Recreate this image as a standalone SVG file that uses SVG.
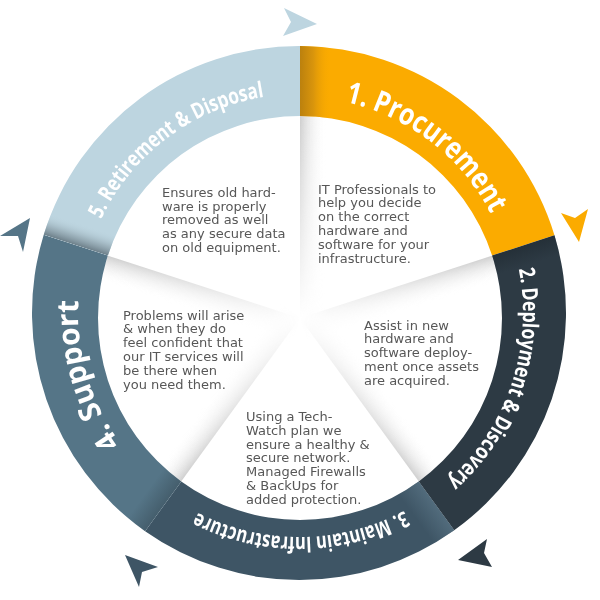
<svg xmlns="http://www.w3.org/2000/svg" xmlns:xlink="http://www.w3.org/1999/xlink" width="600" height="600" viewBox="0 0 600 600">
<defs>
<style>
.lbl{font-family:"Open Sans",Lato,"DejaVu Sans",sans-serif;font-weight:700;fill:#ffffff}
.big{font-size:30px}
.sm{font-size:22px}
.body{font-family:"DejaVu Sans","Open Sans",sans-serif;font-size:13px;fill:#575757}
</style>
<path id="seg1" d="M300,46 A267,267 0 0 1 554.46,235.32 L492.11,255.58 A202,202 0 0 0 300,116 Z"/>
<path id="seg2" d="M554.46,235.32 A267,267 0 0 1 454.21,530.25 L418.73,481.42 A202,202 0 0 0 492.11,255.58 Z"/>
<path id="seg3" d="M454.21,530.25 A267,267 0 0 1 145.11,531.18 L181.27,481.42 A202,202 0 0 0 418.73,481.42 Z"/>
<path id="seg4" d="M145.11,531.18 A267,267 0 0 1 43.73,234.73 L107.89,255.58 A202,202 0 0 0 181.27,481.42 Z"/>
<path id="seg5" d="M43.73,234.73 A267,267 0 0 1 300,46 L300,116 A202,202 0 0 0 107.89,255.58 Z"/>
<clipPath id="c1"><use xlink:href="#seg1"/></clipPath>
<clipPath id="c2"><use xlink:href="#seg2"/></clipPath>
<clipPath id="c3"><use xlink:href="#seg3"/></clipPath>
<clipPath id="c4"><use xlink:href="#seg4"/></clipPath>
<clipPath id="c5"><use xlink:href="#seg5"/></clipPath>
<clipPath id="disc"><circle cx="300" cy="318" r="202"/></clipPath>
<linearGradient id="gOr" x1="0" y1="0" x2="1" y2="0">
<stop offset="0" stop-color="#B97F0E"/>
<stop offset="0.45" stop-color="#D9950C"/>
<stop offset="1" stop-color="#FBAB00" stop-opacity="0"/>
</linearGradient>
<linearGradient id="gBl" x1="0" y1="0" x2="0" y2="1">
<stop offset="0" stop-color="#6C7E88"/>
<stop offset="0.4" stop-color="#8FA3AD" stop-opacity="0.7"/>
<stop offset="1" stop-color="#BDD5E0" stop-opacity="0"/>
</linearGradient>
<linearGradient id="gDk" x1="0" y1="0" x2="0" y2="1">
<stop offset="0" stop-color="#1F2930" stop-opacity="0.6"/>
<stop offset="1" stop-color="#1F2930" stop-opacity="0"/>
</linearGradient>
<linearGradient id="gLt" x1="0" y1="0" x2="0" y2="1">
<stop offset="0" stop-color="#5A7586" stop-opacity="0.7"/>
<stop offset="1" stop-color="#5A7586" stop-opacity="0"/>
</linearGradient>
<linearGradient id="gSh" x1="0" y1="0" x2="0" y2="1">
<stop offset="0" stop-color="#CCCCCC" stop-opacity="0.95"/>
<stop offset="1" stop-color="#FFFFFF" stop-opacity="0"/>
</linearGradient>
<radialGradient id="fade" cx="300" cy="318" r="202" gradientUnits="userSpaceOnUse">
<stop offset="0" stop-color="#000"/>
<stop offset="0.25" stop-color="#444"/>
<stop offset="1" stop-color="#fff"/>
</radialGradient>
<mask id="mFade" maskUnits="userSpaceOnUse" x="0" y="0" width="600" height="600">
<rect x="0" y="0" width="600" height="600" fill="url(#fade)"/>
</mask>
<path id="p1" d="M304.65,97.07 A216,216 0 0 1 506.10,251.65"/>
<path id="p2" d="M512.75,246.02 A224,224 0 0 1 428.76,495.59"/>
<path id="p3" d="M432.24,493.06 A224,224 0 0 1 168.92,495.36"/>
<path id="p4" d="M164.17,488.10 A221,221 0 0 1 90.80,238.87"/>
<path id="p5" d="M89.68,248.61 A219,219 0 0 1 295.56,94.03"/>
</defs>
<rect width="600" height="600" fill="#ffffff"/>

<g id="inner-shading" clip-path="url(#disc)" mask="url(#mFade)">
<rect x="0" y="0" width="205" height="26" fill="url(#gSh)" transform="translate(300,318) rotate(-90)"/>
<rect x="0" y="0" width="205" height="26" fill="url(#gSh)" transform="translate(300,318) rotate(-18)"/>
<rect x="0" y="0" width="205" height="26" fill="url(#gSh)" transform="translate(300,318) rotate(-162) scale(1,-1)"/>
<rect x="0" y="0" width="205" height="26" fill="url(#gSh)" transform="translate(300,318) rotate(126)"/>
<rect x="0" y="0" width="205" height="26" fill="url(#gSh)" transform="translate(300,318) rotate(54) scale(1,-1)"/>
</g>

<g id="node-1">
<use xlink:href="#seg1" fill="#FBAB00"/>
<g clip-path="url(#c1)"><rect x="299" y="40" width="32" height="85" fill="url(#gOr)"/></g>
<text class="lbl big"><textPath xlink:href="#p1" startOffset="50%" text-anchor="middle" textLength="190" lengthAdjust="spacingAndGlyphs">1. Procurement</textPath></text>
<text class="body" x="318" y="193.5">IT Professionals to<tspan x="318" dy="13.9">help you decide</tspan><tspan x="318" dy="13.9">on the correct</tspan><tspan x="318" dy="13.9">hardware and</tspan><tspan x="318" dy="13.9">software for your</tspan><tspan x="318" dy="13.9">infrastructure.</tspan></text>
</g>

<g id="node-2">
<use xlink:href="#seg2" fill="#2D3A44"/>
<g clip-path="url(#c2)"><rect x="195" y="0" width="80" height="20" fill="url(#gDk)" transform="translate(300,318) rotate(-18)"/></g>
<text class="lbl sm"><textPath xlink:href="#p2" startOffset="50%" text-anchor="middle" textLength="234" lengthAdjust="spacingAndGlyphs">2. Deployment &amp; Discovery</textPath></text>
<text class="body" x="364" y="329.5">Assist in new<tspan x="364" dy="13.75">hardware and</tspan><tspan x="364" dy="13.75">software deploy-</tspan><tspan x="364" dy="13.75">ment once assets</tspan><tspan x="364" dy="13.75">are acquired.</tspan></text>
</g>

<g id="node-3">
<use xlink:href="#seg3" fill="#3E5565"/>
<g clip-path="url(#c3)"><rect x="195" y="0" width="80" height="24" fill="url(#gLt)" transform="translate(300,318) rotate(54)"/></g>
<text class="lbl sm"><textPath xlink:href="#p3" startOffset="50%" text-anchor="middle" textLength="215" lengthAdjust="spacingAndGlyphs">3. Maintain Infrastructure</textPath></text>
<text class="body" x="246" y="421">Using a Tech-<tspan x="246" dy="13.8">Watch plan we</tspan><tspan x="246" dy="13.8">ensure a healthy &amp;</tspan><tspan x="246" dy="13.8">secure network.</tspan><tspan x="246" dy="13.8">Managed Firewalls</tspan><tspan x="246" dy="13.8">&amp; BackUps for</tspan><tspan x="246" dy="13.8">added protection.</tspan></text>
</g>

<g id="node-4">
<use xlink:href="#seg4" fill="#557587"/>
<g clip-path="url(#c4)"><rect x="195" y="0" width="80" height="22" fill="url(#gDk)" opacity="0.5" transform="translate(300,318) rotate(126)"/></g>
<text class="lbl big"><textPath xlink:href="#p4" startOffset="50%" text-anchor="middle" textLength="152" lengthAdjust="spacingAndGlyphs">4. Support</textPath></text>
<text class="body" x="123" y="319.5">Problems will arise<tspan x="123" dy="13.9">&amp; when they do</tspan><tspan x="123" dy="13.9">feel confident that</tspan><tspan x="123" dy="13.9">our IT services will</tspan><tspan x="123" dy="13.9">be there when</tspan><tspan x="123" dy="13.9">you need them.</tspan></text>
</g>

<g id="node-5">
<use xlink:href="#seg5" fill="#BDD5E0"/>
<g clip-path="url(#c5)"><rect x="195" y="0" width="90" height="22" fill="url(#gBl)" transform="translate(300,318) rotate(-162)"/></g>
<text class="lbl sm"><textPath xlink:href="#p5" startOffset="50%" text-anchor="middle" textLength="212" lengthAdjust="spacingAndGlyphs">5. Retirement &amp; Disposal</textPath></text>
<text class="body" x="162" y="197">Ensures old hard-<tspan x="162" dy="13.7">ware is properly</tspan><tspan x="162" dy="13.7">removed as well</tspan><tspan x="162" dy="13.7">as any secure data</tspan><tspan x="162" dy="13.7">on old equipment.</tspan></text>
</g>

<g id="connectors">
<polygon points="317,24 284,8 291,22 283,36" fill="#BDD5E0"/>
<polygon points="579,242 561,213 575,218 588,209" fill="#FBAB00"/>
<polygon points="458,560 487,539 484,553 492,567" fill="#2D3A44"/>
<polygon points="125,555 158,567 142,572 139,587" fill="#3E5565"/>
<polygon points="30,218 0,236 18,236 23,252" fill="#557587"/>
</g>
</svg>
